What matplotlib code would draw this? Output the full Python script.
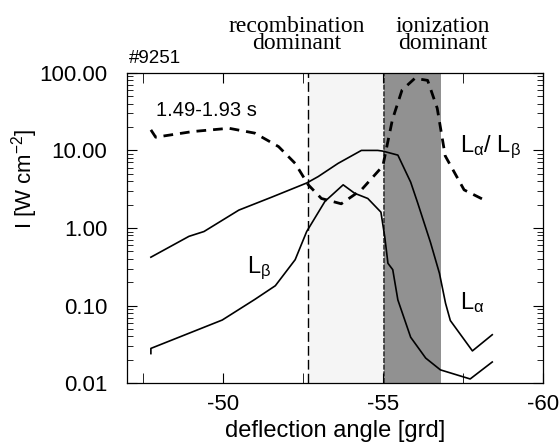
import matplotlib
matplotlib.use("Agg")
import matplotlib.pyplot as plt
from matplotlib.ticker import FixedLocator, LogLocator, NullFormatter, FixedFormatter

plt.rcParams['font.family'] = ['Liberation Sans', 'DejaVu Sans']
plt.rcParams['mathtext.fontset'] = 'custom'
plt.rcParams['mathtext.rm'] = 'Liberation Sans'
plt.rcParams['mathtext.it'] = 'Liberation Sans'
plt.rcParams['axes.unicode_minus'] = False

# L_alpha (solid, upper)
la_x = [-47.75, -48.94, -49.41, -50.5, -51.53, -52.62, -52.98, -53.6, -54.33, -54.84,
        -55.0, -55.47, -55.87, -56.09, -56.49, -56.77, -56.96, -57.11, -57.8, -58.42]
la_y = [0.42, 0.78, 0.90, 1.7, 2.5, 3.8, 4.6, 6.8, 10.0, 10.0,
        9.8, 8.7, 3.9, 2.1, 0.65, 0.26, 0.107, 0.064, 0.026, 0.042]

# L_beta (solid, lower)
lb_x = [-47.75, -47.75, -49.98, -51.0, -51.64, -52.26, -52.62, -53.19, -53.76, -54.12,
        -54.53, -54.94, -55.06, -55.16, -55.31, -55.47, -55.87, -56.34, -56.8, -57.73, -58.42]
lb_y = [0.024, 0.028, 0.065, 0.12, 0.18, 0.39, 0.9, 2.2, 3.6, 2.8,
        2.4, 1.6, 0.77, 0.35, 0.29, 0.118, 0.039, 0.021, 0.0148, 0.0113, 0.0187]

# L_alpha / L_beta (dashed)
ratio_x = [-47.75, -47.9, -49.05, -50.19, -51.0, -51.74, -52.26, -52.67, -53.08, -53.7,
           -54.33, -55.0, -55.3, -55.6, -56.0, -56.4, -56.7, -56.95, -57.54, -58.26]
ratio_y = [18.4, 14.8, 17.5, 19.3, 16.7, 11.2, 6.8, 3.6, 2.4, 2.05,
           3.1, 6.3, 25, 60, 85, 80, 35, 8.5, 3.1, 2.2]

recomb_edge = -52.65
ion_band = (-55.03, -56.83)

fig = plt.figure(figsize=(5.59, 4.47), dpi=100)
ax = fig.add_axes([0.227, 0.143, 0.744, 0.694])

# shaded regions
ax.axvspan(recomb_edge, ion_band[0], color='0.96', lw=0, zorder=0)
ax.axvspan(ion_band[0], ion_band[1], color='0.57', lw=0, zorder=0)
ax.axvline(recomb_edge, color='black', lw=1.0, ls=(0, (7, 3)), zorder=1)
ax.axvline(ion_band[0], color='0.2', lw=1.2, ls=(0, (3, 1)), zorder=1)

ax.plot(la_x, la_y, color='black', lw=1.2, zorder=3)
ax.plot(lb_x, lb_y, color='black', lw=1.2, zorder=3)
ax.plot(ratio_x, ratio_y, color='black', lw=2.0, ls=(0, (3.5, 2.5)), zorder=3)

ax.set_yscale('log')
ax.set_ylim(0.01, 100)
ax.set_xlim(-47.0, -60.0)

ax.yaxis.set_major_locator(FixedLocator([0.01, 0.1, 1, 10, 100]))
ax.yaxis.set_major_formatter(FixedFormatter(['0.01', '0.10', '1.00', '10.00', '100.00']))
ax.yaxis.set_minor_locator(LogLocator(base=10, subs=range(2, 10)))
ax.yaxis.set_minor_formatter(NullFormatter())

ax.xaxis.set_major_locator(FixedLocator([-50, -55, -60]))
ax.xaxis.set_minor_locator(FixedLocator([-47.5, -52.5, -57.5]))

ax.tick_params(which='both', direction='in', top=True, right=True, labelsize=16)
ax.tick_params(which='major', length=7, width=0.8)
ax.tick_params(which='minor', length=4, width=0.6)
ax.tick_params(axis='x', which='minor', length=7)
ax.tick_params(axis='x', pad=8)
ax.tick_params(axis='y', pad=14)

for s in ax.spines.values():
    s.set_linewidth(0.9)

ax.set_xlabel('deflection angle [grd]', fontsize=17)
ax.xaxis.set_label_coords(0.5, -0.118)
ax.set_ylabel(r'I [W cm$^{-2}$]', fontsize=16)
ax.yaxis.set_label_coords(-0.21, 0.66)

# annotations
ax.text(-47.05, 120, '#9251', fontsize=13.5, ha='left', va='bottom')
ax.text(-47.9, 33, '1.49-1.93 s', fontsize=14.5, ha='left', va='center')
ax.text(-57.4, 11, r'L$_{\alpha}$/ L$_{\beta}$', fontsize=17, ha='left', va='center')
ax.text(-50.75, 0.3, r'L$_{\beta}$', fontsize=17, ha='left', va='center')
ax.text(-57.4, 0.11, r'L$_{\alpha}$', fontsize=17, ha='left', va='center')

fig.text(297 / 559, 1 - 35 / 447, 'recombination\ndominant', fontsize=17,
         family=['Liberation Serif', 'DejaVu Serif'], ha='center', va='center',
         linespacing=0.8)
fig.text(443 / 559, 1 - 35 / 447, 'ionization\ndominant', fontsize=17,
         family=['Liberation Serif', 'DejaVu Serif'], ha='center', va='center',
         linespacing=0.8)

fig.savefig('out.png', dpi=100)
